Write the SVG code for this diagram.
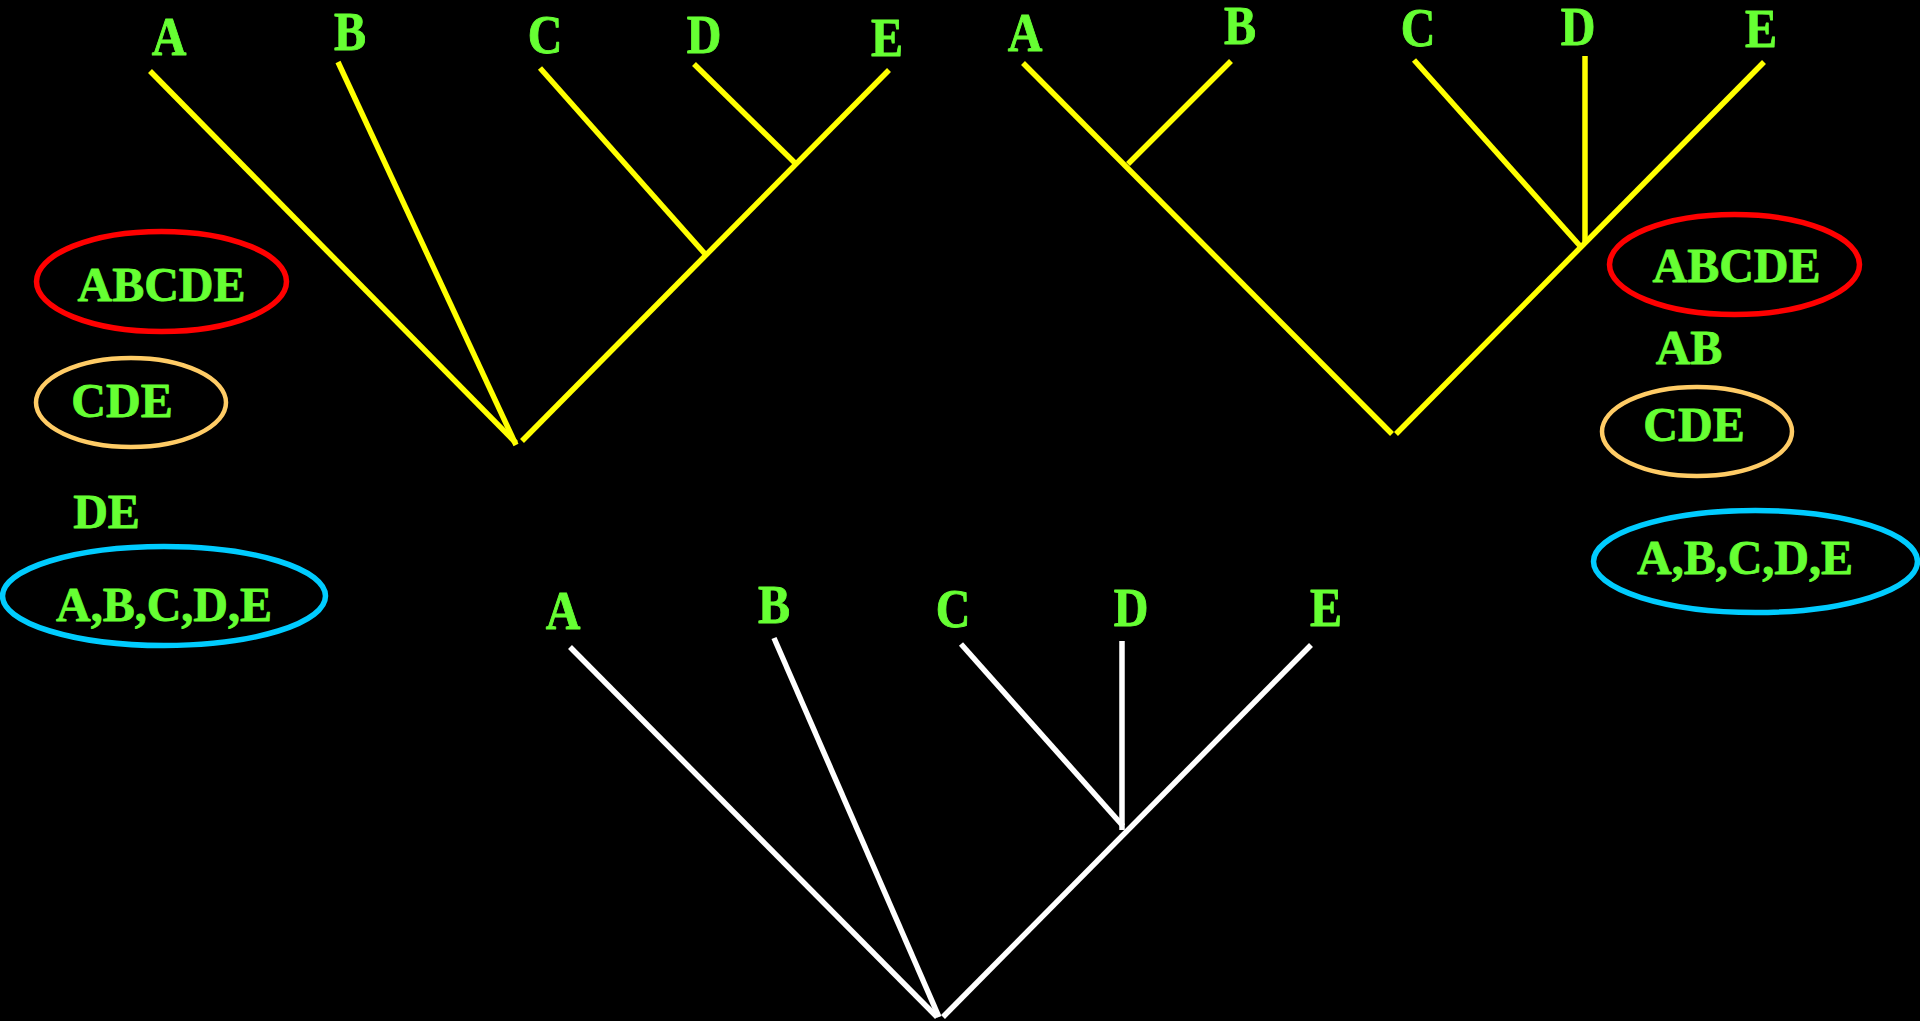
<svg xmlns="http://www.w3.org/2000/svg" width="1920" height="1021" viewBox="0 0 1920 1021">
<style>
text{font-family:'Liberation Serif','Times New Roman',serif;font-weight:700;font-size:48px;fill:#66FF33;stroke:#66FF33;stroke-width:0.8;stroke-linejoin:round;text-anchor:middle}
.y{stroke:#FFFF00;stroke-width:5.5;fill:none}
.w{stroke:#FFFFFF;stroke-width:5.5;fill:none}
.red{stroke:#FF0000;stroke-width:5.5;fill:none}
.org{stroke:#FFCC66;stroke-width:4.5;fill:none}
.blu{stroke:#00CCFF;stroke-width:5.5;fill:none}
</style>
<rect x="0" y="0" width="1920" height="1021" fill="#000000"/>
<g id="connectors">
  <g id="tree1">
    <line class="y" x1="150" y1="71" x2="516" y2="443"/>
    <line class="y" x1="338" y1="62" x2="516" y2="445"/>
    <line class="y" x1="522" y1="441" x2="889" y2="70"/>
    <line class="y" x1="540" y1="68" x2="706" y2="255"/>
    <line class="y" x1="694" y1="64" x2="795" y2="163"/>
  </g>
  <g id="tree2">
    <line class="y" x1="1023" y1="63" x2="1392" y2="434"/>
    <line class="y" x1="1396" y1="434" x2="1764" y2="62"/>
    <line class="y" x1="1231" y1="61" x2="1128" y2="164"/>
    <line class="y" x1="1414" y1="60" x2="1581" y2="247"/>
    <line class="y" x1="1585" y1="56" x2="1585" y2="243"/>
  </g>
  <g id="tree3">
    <line class="w" x1="570" y1="647" x2="937" y2="1017"/>
    <line class="w" x1="774" y1="638" x2="939" y2="1017"/>
    <line class="w" x1="943" y1="1017" x2="1311" y2="645"/>
    <line class="w" x1="961" y1="644" x2="1123" y2="826"/>
    <line class="w" x1="1122" y1="641" x2="1122" y2="830"/>
  </g>
</g>
<g id="labels-tree1">
  <g id="t1-A"><text transform="translate(169,55) scale(1,1.13)">A</text></g>
  <g id="t1-B"><text transform="translate(350,50) scale(1,1.13)">B</text></g>
  <g id="t1-C"><text transform="translate(545,53) scale(1,1.13)">C</text></g>
  <g id="t1-D"><text transform="translate(704,53) scale(1,1.13)">D</text></g>
  <g id="t1-E"><text transform="translate(887,56) scale(1,1.13)">E</text></g>
</g>
<g id="labels-tree2">
  <g id="t2-A"><text transform="translate(1025,51) scale(1,1.13)">A</text></g>
  <g id="t2-B"><text transform="translate(1240,44) scale(1,1.13)">B</text></g>
  <g id="t2-C"><text transform="translate(1418,46) scale(1,1.13)">C</text></g>
  <g id="t2-D"><text transform="translate(1578,45) scale(1,1.13)">D</text></g>
  <g id="t2-E"><text transform="translate(1761,47) scale(1,1.13)">E</text></g>
</g>
<g id="labels-tree3">
  <g id="t3-A"><text transform="translate(563,629) scale(1,1.13)">A</text></g>
  <g id="t3-B"><text transform="translate(774,623) scale(1,1.13)">B</text></g>
  <g id="t3-C"><text transform="translate(953,627) scale(1,1.13)">C</text></g>
  <g id="t3-D"><text transform="translate(1131,626) scale(1,1.13)">D</text></g>
  <g id="t3-E"><text transform="translate(1326,626) scale(1,1.13)">E</text></g>
</g>
<g id="left-ABCDE">
  <ellipse class="red" cx="161.5" cy="281.5" rx="125" ry="50"/>
  <text x="161.5" y="301">ABCDE</text>
</g>
<g id="left-CDE">
  <ellipse class="org" cx="131" cy="402.5" rx="95" ry="44.5"/>
  <text x="122" y="417">CDE</text>
</g>
<g id="left-DE">
  <text x="106.5" y="528">DE</text>
</g>
<g id="left-all">
  <ellipse class="blu" cx="164" cy="596" rx="161.5" ry="49.5"/>
  <text x="164" y="621">A,B,C,D,E</text>
</g>
<g id="right-ABCDE">
  <ellipse class="red" cx="1734.5" cy="264.5" rx="125" ry="50"/>
  <text x="1736.5" y="282">ABCDE</text>
</g>
<g id="right-AB">
  <text x="1689" y="364">AB</text>
</g>
<g id="right-CDE">
  <ellipse class="org" cx="1697" cy="431.5" rx="95" ry="44.5"/>
  <text x="1694" y="441">CDE</text>
</g>
<g id="right-all">
  <ellipse class="blu" cx="1755.5" cy="561.5" rx="162" ry="51"/>
  <text x="1745" y="574">A,B,C,D,E</text>
</g>
</svg>
